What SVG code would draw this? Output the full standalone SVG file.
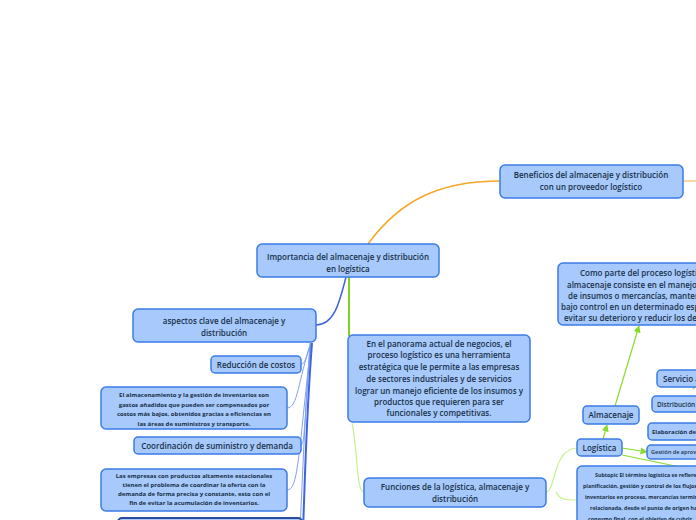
<svg xmlns="http://www.w3.org/2000/svg" width="696" height="520" viewBox="0 0 696 520">
<defs>
<style>
.n{fill:#a8c9fb;stroke:#3b7be8;stroke-width:1.5}
.t{font-family:"Open Sans","Noto Sans",sans-serif;font-weight:600;fill:#173049;text-anchor:middle}
.s{text-anchor:start}
.h{font-size:8px}
.p{font-size:6px;font-weight:700}
.c{fill:none}
</style>
<marker id="ag" viewBox="0 0 10 10" refX="9" refY="5" markerWidth="6" markerHeight="6" orient="auto-start-reverse"><path d="M0,0L10,5L0,10z" fill="#86dc2c"/></marker>
</defs>
<rect width="696" height="520" fill="#ffffff"/>
<g id="connectors">
<path class="c" d="M500,181 C440,181 400,200 368,244" stroke="#f5a623" stroke-width="1.5"/>
<path class="c" d="M683,181 L696,181" stroke="#f9c98a" stroke-width="1.5"/>
<path class="c" d="M346,277 C340,300 335,325 316,325" stroke="#3d63e0" stroke-width="1.5"/>
<path class="c" d="M311,343 C306,355 306,364 301,364" stroke="#7f9ff0" stroke-width="1"/>
<path class="c" d="M311,343 C298,380 298,408 287,408" stroke="#7f9ff0" stroke-width="1"/>
<path class="c" d="M311,343 C304,420 305,445 301,445" stroke="#7f9ff0" stroke-width="1"/>
<path class="c" d="M311,343 C298,460 298,490 287,490" stroke="#7f9ff0" stroke-width="1"/>
<path class="c" d="M312,343 C306,420 305,480 303,530" stroke="#3d63e0" stroke-width="2"/>
<path class="c" d="M310,343 C304,430 302,490 300,530" stroke="#7f9ff0" stroke-width="1"/>
<path class="c" d="M349,277 L349,336" stroke="#7ed321" stroke-width="2"/>
<path class="c" d="M352,423 C358,450 356,492 364,492" stroke="#c6f08a" stroke-width="1.2"/>
<path class="c" d="M546,492 C556,492 552,449 577,448" stroke="#c6f08a" stroke-width="1.2"/>
<path class="c" d="M556,492 C560,500 565,500 577,500" stroke="#c6f08a" stroke-width="1.2"/>
<path class="c" d="M603,439 L607,425" stroke="#86dc2c" stroke-width="1.2" marker-end="url(#ag)"/>
<path class="c" d="M615,406 L639,326" stroke="#86dc2c" stroke-width="1.2" marker-end="url(#ag)"/>
<path class="c" d="M622,448 L647,452" stroke="#86dc2c" stroke-width="1.2" marker-end="url(#ag)"/>
<path class="c" d="M622,455 L680,467" stroke="#86dc2c" stroke-width="1.2"/>
<path class="c" d="M696,386 L693,389" stroke="#86dc2c" stroke-width="1.2"/>
<path class="c" d="M696,408 L693,411" stroke="#86dc2c" stroke-width="1.2"/>
</g>
<g id="beneficios">
<rect class="n" x="500" y="165" width="183" height="33" rx="5"/>
<text class="t h" x="591" y="178">Beneficios del almacenaje y distribución</text>
<text class="t h" x="591" y="190">con un proveedor logístico</text>
</g>
<g id="importancia">
<rect class="n" x="257" y="244" width="182" height="33" rx="5"/>
<text class="t h" x="348" y="260">Importancia del almacenaje y distribución</text>
<text class="t h" x="348" y="272">en logística</text>
</g>
<g id="aspectos">
<rect class="n" x="133" y="309" width="183" height="33" rx="5"/>
<text class="t h" x="224" y="324">aspectos clave del almacenaje y</text>
<text class="t h" x="224" y="336">distribución</text>
</g>
<g id="reduccion">
<rect class="n" x="211" y="356" width="90" height="17" rx="4"/>
<text class="t h" x="256" y="368">Reducción de costos</text>
</g>
<g id="almacenamiento">
<rect class="n" x="101" y="387" width="186" height="42" rx="5"/>
<text class="t p" x="194" y="397">El almacenamiento y la gestión de inventarios son</text>
<text class="t p" x="194" y="406.5">gastos añadidos que pueden ser compensados por</text>
<text class="t p" x="194" y="416">costos más bajos, obtenidos gracias a eficiencias en</text>
<text class="t p" x="194" y="425.5">las áreas de suministros y transporte.</text>
</g>
<g id="coordinacion">
<rect class="n" x="134" y="437" width="167" height="17" rx="4"/>
<text class="t h" x="217" y="449">Coordinación de suministro y demanda</text>
</g>
<g id="empresas">
<rect class="n" x="101" y="469" width="186" height="42" rx="5"/>
<text class="t p" x="194" y="478">Las empresas con productos altamente estacionales</text>
<text class="t p" x="194" y="487">tienen el problema de coordinar la oferta con la</text>
<text class="t p" x="194" y="496">demanda de forma precisa y constante, esto con el</text>
<text class="t p" x="194" y="505">fin de evitar la acumulación de inventarios.</text>
</g>
<g id="bottom-node">
<rect x="118" y="518" width="184" height="20" rx="4" fill="#a8c9fb" stroke="#2a4aa0" stroke-width="2"/>
</g>
<g id="panorama">
<rect class="n" x="348" y="335" width="182" height="87" rx="5"/>
<text class="t h" x="439" y="347">En el panorama actual de negocios, el</text>
<text class="t h" x="439" y="358">proceso logístico es una herramienta</text>
<text class="t h" x="439" y="370">estratégica que le permite a las empresas</text>
<text class="t h" x="439" y="382">de sectores industriales y de servicios</text>
<text class="t h" x="439" y="394">lograr un manejo eficiente de los insumos y</text>
<text class="t h" x="439" y="405">productos que requieren para ser</text>
<text class="t h" x="439" y="416">funcionales y competitivas.</text>
</g>
<g id="funciones">
<rect class="n" x="364" y="478" width="182" height="29" rx="5"/>
<text class="t h" x="455" y="490">Funciones de la logística, almacenaje y</text>
<text class="t h" x="455" y="502">distribución</text>
</g>
<g id="como-parte">
<rect class="n" x="558" y="263" width="200" height="62" rx="5"/>
<text class="t h s" x="580" y="276">Como parte del proceso logístico, el</text>
<text class="t h s" x="567" y="288">almacenaje consiste en el manejo físico</text>
<text class="t h s" x="568" y="299">de insumos o mercancías, manteniéndolos</text>
<text class="t h s" x="561" y="310">bajo control en un determinado espacio</text>
<text class="t h s" x="564" y="321">evitar su deterioro y reducir los desperdicios.</text>
</g>
<g id="almacenaje">
<rect class="n" x="583" y="406" width="56" height="18" rx="4"/>
<text class="t h" x="611" y="418">Almacenaje</text>
</g>
<g id="logistica">
<rect class="n" x="577" y="439" width="45" height="17" rx="4"/>
<text class="t h" x="599.5" y="451">Logística</text>
</g>
<g id="servicio">
<rect class="n" x="657" y="370" width="60" height="17" rx="4"/>
<text class="t h s" x="663" y="382">Servicio al cliente</text>
</g>
<g id="distribucion">
<rect class="n" x="652" y="396" width="60" height="16" rx="4"/>
<text class="t s" style="font-size:6.5px" x="657" y="406.5">Distribución</text>
</g>
<g id="elaboracion">
<rect class="n" x="648" y="423" width="60" height="17" rx="4"/>
<text class="t p s" x="652" y="433.5">Elaboración de</text>
</g>
<g id="gestion">
<rect class="n" x="647" y="445" width="60" height="14" rx="4"/>
<text class="t s" style="font-size:5.5px" x="651" y="454">Gestión de aprovisionamiento</text>
</g>
<g id="subtopic">
<rect class="n" x="577" y="466" width="140" height="70" rx="5"/>
<text class="t s" style="font-size:5.3px;font-weight:700" x="595" y="477">Subtopic El término logística se refiere a la</text>
<text class="t s" style="font-size:5.3px;font-weight:700" x="583" y="488">planificación, gestión y control de los flujos de</text>
<text class="t s" style="font-size:5.3px;font-weight:700" x="585" y="499">inventarios en proceso, mercancías terminadas</text>
<text class="t s" style="font-size:5.3px;font-weight:700" x="590" y="510">relacionada, desde el punto de origen hasta</text>
<text class="t s" style="font-size:5.3px;font-weight:700" x="588" y="521">consumo final, con el objetivo de cubrir</text>
</g>
</svg>
